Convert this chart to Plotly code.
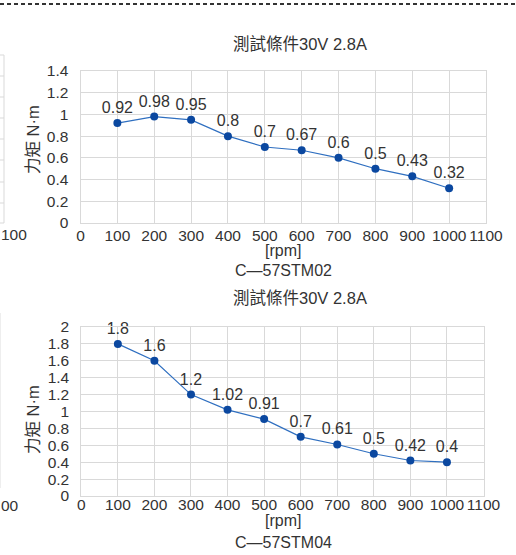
import plotly.graph_objects as go

# ---- data ----
rpm = [100, 200, 300, 400, 500, 600, 700, 800, 900, 1000]
torque_stm02 = [0.92, 0.98, 0.95, 0.8, 0.7, 0.67, 0.6, 0.5, 0.43, 0.32]
torque_stm04 = [1.8, 1.6, 1.2, 1.02, 0.91, 0.7, 0.61, 0.5, 0.42, 0.4]
labels_stm02 = ["0.92", "0.98", "0.95", "0.8", "0.7", "0.67", "0.6", "0.5", "0.43", "0.32"]
labels_stm04 = ["1.8", "1.6", "1.2", "1.02", "0.91", "0.7", "0.61", "0.5", "0.42", "0.4"]
title_text = "測試條件30V 2.8A"
x_title = "[rpm]"
y_title = "力矩 N·m"
model_02 = "C—57STM02"
model_04 = "C—57STM04"

W, H = 516, 555
def px(x):
    return x / W
def py(y):
    return 1 - y / H

FONT = "Liberation Sans, Arial, Noto Sans CJK TC, sans-serif"
TXT = "#333333"
GRID = "#D9D9D9"
LINE_C = "#2F6FC0"
MARK_C = "#0B48A0"

fig = go.Figure()
fig.add_trace(go.Scatter(
    x=rpm, y=torque_stm02, text=labels_stm02, mode="lines+markers+text",
    textposition="top center", textfont=dict(size=16, color=TXT, family=FONT),
    line=dict(color=LINE_C, width=1.2), marker=dict(color=MARK_C, size=8),
    xaxis="x", yaxis="y", showlegend=False, cliponaxis=False))
fig.add_trace(go.Scatter(
    x=rpm, y=torque_stm04, text=labels_stm04, mode="lines+markers+text",
    textposition="top center", textfont=dict(size=16, color=TXT, family=FONT),
    line=dict(color=LINE_C, width=1.2), marker=dict(color=MARK_C, size=8),
    xaxis="x2", yaxis="y2", showlegend=False, cliponaxis=False))

axis_common = dict(showgrid=True, gridcolor=GRID, gridwidth=1, showline=True,
                   linecolor=GRID, linewidth=1, mirror=True, zeroline=False,
                   automargin=False,
                   tickfont=dict(size=15.5, color=TXT, family=FONT), ticks="")

fig.update_layout(
    template="none",
    width=W, height=H, margin=dict(l=0, r=0, t=0, b=0, pad=0),
    paper_bgcolor="white", plot_bgcolor="white",
    font=dict(family=FONT, color=TXT),
    xaxis=dict(domain=[px(80.5), px(486)], range=[0, 1100], dtick=100,
               anchor="y", ticklabelstandoff=-2, **axis_common),
    yaxis=dict(domain=[py(223), py(71)], range=[0, 1.4], dtick=0.2,
               anchor="x", ticklabelstandoff=8, **axis_common),
    xaxis2=dict(domain=[px(81.3), px(483.5)], range=[0, 1100], dtick=100,
                anchor="y2", ticklabelstandoff=-6, **axis_common),
    yaxis2=dict(domain=[py(496), py(327)], range=[0, 2], dtick=0.2,
                anchor="x2", ticklabelstandoff=8, **axis_common),
)

def ann(text, x, y, size=15.5, angle=0, xanchor="center"):
    fig.add_annotation(text=text, x=px(x), y=py(y), xref="paper", yref="paper",
                       showarrow=False, xanchor=xanchor, yanchor="middle",
                       textangle=angle, font=dict(size=size, color=TXT, family=FONT))

ann(title_text, 300, 44, size=16.5)
ann(x_title, 283, 250, size=16)
ann(model_02, 283, 270, size=16)
ann(y_title, 33, 140, size=16.5, angle=-90)

ann(title_text, 300, 298, size=16.5)
ann(x_title, 283, 520, size=16)
ann(model_04, 283, 542, size=16)
ann(y_title, 33, 420, size=16.5, angle=-90)

# fragments of neighbouring chart at the left edge
ann("100", -1, 234, xanchor="left")
ann("00", -1, 505, xanchor="left")
fig.add_shape(type="line", xref="paper", yref="paper", x0=px(4), x1=px(4),
              y0=py(55), y1=py(223), line=dict(color=GRID, width=1))
for gy in [55, 76, 97, 118, 139, 160, 182, 203, 223]:
    fig.add_shape(type="line", xref="paper", yref="paper", x0=0, x1=px(4),
                  y0=py(gy), y1=py(gy), line=dict(color=GRID, width=1))
fig.add_shape(type="line", xref="paper", yref="paper", x0=px(0.5), x1=px(0.5),
              y0=py(313), y1=py(488), line=dict(color="#EEEEEE", width=1))

# dotted separator at top
fig.add_shape(type="line", xref="paper", yref="paper", x0=0, x1=1,
              y0=py(4), y1=py(4), line=dict(color="#333333", width=2, dash="4px,3px"))

fig.write_html("out.html", config={"displayModeBar": False},
               post_script="document.body.style.margin='0px';document.body.style.overflow='hidden';")
